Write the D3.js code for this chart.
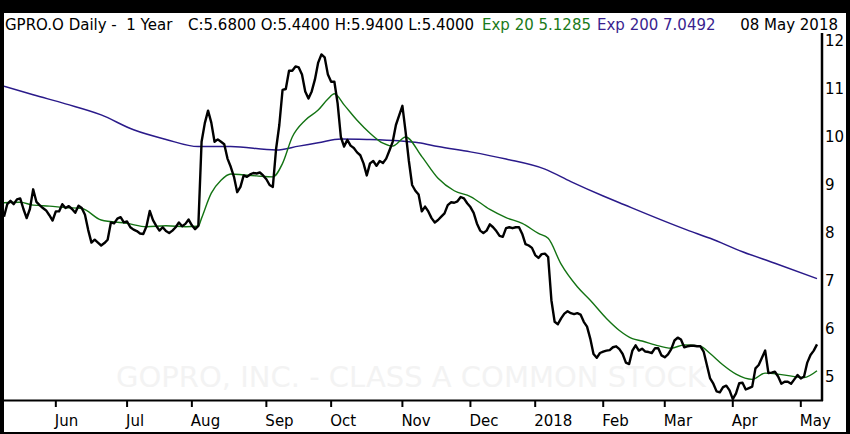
<!DOCTYPE html>
<html>
<head>
<meta charset="utf-8">
<script src="https://cdn.jsdelivr.net/npm/d3@7"></script>
<style>
  html, body { margin: 0; padding: 0; background: #000; }
  svg { display: block; }
  text { font-family: "DejaVu Sans", Verdana, sans-serif; }
</style>
</head>
<body>
<svg id="chart" width="850" height="434"></svg>
<script>
// daily closes, one per trading day from 09 May 2017 to 08 May 2018
const closes = [
  8.34, 8.60, 8.67, 8.60, 8.70, 8.72, 8.50, 8.31, 8.50, 8.91,
  8.65, 8.58, 8.52, 8.47, 8.37, 8.26, 8.45, 8.45, 8.60, 8.52,
  8.56, 8.50, 8.42, 8.57, 8.52, 8.38, 8.06, 7.80, 7.86, 7.80,
  7.74, 7.79, 7.86, 8.22, 8.20, 8.30, 8.33, 8.22, 8.24, 8.12,
  8.07, 8.04, 7.99, 7.98, 8.14, 8.46, 8.27, 8.15, 8.05, 8.12,
  8.04, 8.00, 8.05, 8.12, 8.22, 8.14, 8.19, 8.28, 8.16, 8.08,
  8.15, 9.90, 10.29, 10.55, 10.30, 9.90, 9.95, 9.90, 9.85, 9.55,
  9.38, 9.17, 8.85, 8.96, 9.20, 9.17, 9.22, 9.25, 9.24, 9.26,
  9.20, 9.12, 9.00, 8.96, 9.75, 10.25, 10.98, 11.00, 11.38, 11.38,
  11.47, 11.45, 11.30, 10.95, 10.80, 10.95, 11.20, 11.55, 11.72, 11.66,
  11.30, 11.15, 11.15, 10.70, 10.00, 9.80, 9.94, 9.82, 9.77, 9.68,
  9.62, 9.45, 9.20, 9.45, 9.50, 9.40, 9.50, 9.46, 9.55, 9.72,
  9.90, 10.25, 10.45, 10.65, 10.10, 9.50, 9.00, 8.88, 8.80, 8.45,
  8.55, 8.45, 8.31, 8.22, 8.27, 8.34, 8.41, 8.58, 8.64, 8.63,
  8.66, 8.75, 8.72, 8.62, 8.54, 8.42, 8.20, 8.05, 8.00, 8.05,
  8.18, 8.12, 8.04, 7.94, 7.92, 8.10, 8.12, 8.10, 8.12, 8.12,
  7.98, 7.77, 7.74, 7.69, 7.54, 7.48, 7.56, 7.57, 7.50, 6.60,
  6.15, 6.10, 6.22, 6.32, 6.37, 6.33, 6.31, 6.33, 6.30, 6.15,
  6.05, 5.80, 5.48, 5.40, 5.50, 5.53, 5.55, 5.56, 5.62, 5.64,
  5.58, 5.48, 5.30, 5.27, 5.55, 5.66, 5.55, 5.59, 5.53, 5.52,
  5.50, 5.60, 5.60, 5.45, 5.41, 5.47, 5.58, 5.76, 5.82, 5.78,
  5.62, 5.64, 5.65, 5.65, 5.64, 5.64, 5.53, 5.25, 4.97, 4.86,
  4.70, 4.68, 4.79, 4.82, 4.72, 4.54, 4.66, 4.87, 4.88, 4.74,
  4.77, 4.80, 5.18, 5.25, 5.40, 5.55, 5.08, 5.09, 5.11, 5.01,
  4.86, 4.90, 4.90, 4.86, 4.95, 5.04, 4.97, 5.01, 5.30, 5.46,
  5.55, 5.68
];

// moving averages (trading-day index, value)
const ema20Idx = [0, 5, 9, 14, 19, 24, 30, 38, 44, 50, 56, 60, 61, 64, 67, 70, 74, 78, 83, 86,
  89, 93, 97, 100, 102, 105, 109, 113, 117, 120, 124, 129, 134, 139, 144, 150, 155, 160, 165, 168,
  172, 177, 181, 186, 190, 194, 197, 201, 206, 210, 215, 218, 222, 226, 231, 235, 240, 247, 251];
const ema20 = [8.63, 8.64, 8.58, 8.56, 8.53, 8.51, 8.27, 8.20, 8.13, 8.15, 8.13, 8.14, 8.31, 8.83, 9.10, 9.23, 9.21, 9.19, 9.17, 9.45,
  10.00, 10.35, 10.56, 10.79, 10.90, 10.67, 10.35, 10.08, 9.87, 9.81, 10.00, 9.59, 9.14, 8.88, 8.76, 8.49, 8.32, 8.20, 7.99, 7.89,
  7.35, 6.88, 6.60, 6.22, 5.97, 5.80, 5.75, 5.67, 5.60, 5.67, 5.64, 5.49, 5.25, 5.06, 4.95, 5.08, 5.05, 4.99, 5.13];

const ema200Idx = [0, 9, 19, 30, 40, 50, 60, 70, 84, 91, 97, 104, 112, 122, 128, 134, 144, 155, 167, 175,
  185, 190, 211, 218, 228, 238, 251];
const ema200 = [11.06, 10.88, 10.69, 10.46, 10.15, 9.95, 9.80, 9.80, 9.73, 9.81, 9.88, 9.96, 9.95, 9.92, 9.88, 9.80, 9.69, 9.54, 9.33, 9.07,
  8.77, 8.63, 8.06, 7.89, 7.61, 7.37, 7.05];

const holidays = ["2017-05-29", "2017-07-04", "2017-09-04", "2017-11-23", "2017-12-25",
  "2018-01-01", "2018-01-15", "2018-02-19", "2018-03-30"];
const monthLabels = ["2018", "Feb", "Mar", "Apr", "May", "Jun", "Jul", "Aug", "Sep", "Oct", "Nov", "Dec"];
const yTicks = [5, 6, 7, 8, 9, 10, 11, 12];

// trading calendar
const fmt = d3.utcFormat("%Y-%m-%d");
const dates = d3.utcDays(new Date(Date.UTC(2017, 4, 9)), new Date(Date.UTC(2018, 4, 9)))
  .filter(d => d.getUTCDay() % 6 !== 0 && !holidays.includes(fmt(d)))
  .slice(0, closes.length);

const monthTicks = [];
dates.forEach((d, i) => {
  if (i > 0 && d.getUTCMonth() !== dates[i - 1].getUTCMonth()) monthTicks.push(i);
});

const svg = d3.select("#chart");

// white panel inside the black frame
svg.append("rect")
  .attr("x", 4).attr("y", 13)
  .attr("width", 842).attr("height", 419)
  .attr("fill", "#fff");

const plotL = 4, plotR = 822, plotT = 33, plotB = 400;

const x = d3.scaleLinear().domain([0, closes.length - 1]).range([4, 817]);
const y = d3.scaleLinear().domain([5, 12]).range([377, 41]);

svg.append("clipPath").attr("id", "plot")
  .append("rect")
  .attr("x", plotL).attr("y", plotT)
  .attr("width", plotR - plotL).attr("height", plotB - plotT);

// faint watermark
svg.append("text")
  .attr("x", 116).attr("y", 387)
  .attr("font-size", 29)
  .attr("fill", "#f3f3f3")
  .text("GOPRO, INC. - CLASS A COMMON STOCK");

const plot = svg.append("g").attr("clip-path", "url(#plot)");

const smooth = d3.line().x(d => x(d[0])).y(d => y(d[1])).curve(d3.curveMonotoneX);

plot.append("path")
  .datum(ema200Idx.map((i, k) => [i, ema200[k]]))
  .attr("d", smooth)
  .attr("fill", "none")
  .attr("stroke", "#2a1a8a")
  .attr("stroke-width", 1.5);

plot.append("path")
  .datum(ema20Idx.map((i, k) => [i, ema20[k]]))
  .attr("d", smooth)
  .attr("fill", "none")
  .attr("stroke", "#137313")
  .attr("stroke-width", 1.4);

plot.append("path")
  .datum(closes)
  .attr("d", d3.line().x((d, i) => x(i)).y(d => y(d)))
  .attr("fill", "none")
  .attr("stroke", "#000")
  .attr("stroke-width", 2.4)
  .attr("stroke-linejoin", "round");

// bottom time axis
svg.append("line")
  .attr("x1", plotL).attr("x2", plotR + 1)
  .attr("y1", plotB + 0.5).attr("y2", plotB + 0.5)
  .attr("stroke", "#000").attr("stroke-width", 2);

const xAxis = svg.append("g");
xAxis.selectAll("line")
  .data(monthTicks)
  .join("line")
  .attr("x1", i => x(i)).attr("x2", i => x(i))
  .attr("y1", plotB + 1).attr("y2", plotB + 7)
  .attr("stroke", "#000").attr("stroke-width", 2);
xAxis.selectAll("text")
  .data(monthTicks)
  .join("text")
  .attr("x", i => x(i) - 1)
  .attr("y", 426)
  .attr("font-size", 15)
  .text(i => monthLabels[dates[i].getUTCMonth()]);

// right price axis
const yAxis = svg.append("g")
  .attr("transform", `translate(${plotR},0)`)
  .call(d3.axisRight(y).tickValues(yTicks).tickSize(0).tickPadding(3).tickFormat(d3.format("d")));
yAxis.select(".domain").remove();
yAxis.selectAll("text")
  .attr("font-size", 15)
  .attr("font-family", "DejaVu Sans, Verdana, sans-serif")
  .attr("fill", "#000");

svg.append("line")
  .attr("x1", plotR).attr("x2", plotR)
  .attr("y1", plotT).attr("y2", plotB + 1)
  .attr("stroke", "#000").attr("stroke-width", 2.5);

// header line
const header = svg.append("g").attr("font-size", 15);
header.append("text").attr("x", 5).attr("y", 30).text("GPRO.O Daily -\u00a0 1 Year");
header.append("text").attr("x", 188).attr("y", 30).text("C:5.6800 O:5.4400 H:5.9400 L:5.4000");
header.append("text").attr("x", 482).attr("y", 30).attr("fill", "#1a7a1a").text("Exp 20 5.1285");
header.append("text").attr("x", 597).attr("y", 30).attr("fill", "#3a1f8f").text("Exp 200 7.0492");
header.append("text").attr("x", 838).attr("y", 30).attr("text-anchor", "end").text("08 May 2018");
</script>
</body>
</html>
